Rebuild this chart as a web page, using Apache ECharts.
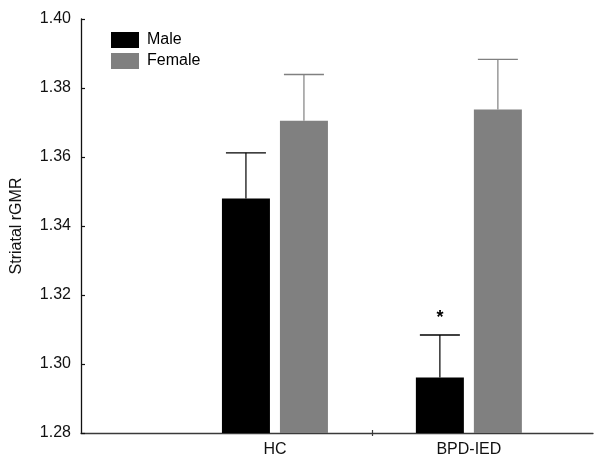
<!DOCTYPE html>
<html>
<head>
<meta charset="utf-8">
<script src="https://cdn.jsdelivr.net/npm/echarts@6/dist/echarts.min.js"></script>
<style>
html,body{margin:0;padding:0;background:#fff;}
#chart{width:601px;height:470px;}
</style>
</head>
<body>
<div id="chart"></div>
<script>
// ---- data ----
const categories = ["HC", "BPD-IED"];
const maleValues = [1.3480, 1.2961];
const maleErrors = [0.0132, 0.0123];
const femaleValues = [1.3705, 1.3738];
const femaleErrors = [0.0134, 0.0145];
const maleSignificance = ["", "*"];
const yTicks = [1.28, 1.30, 1.32, 1.34, 1.36, 1.38, 1.40];
const seriesNames = ["Male", "Female"];

// ---- styling ----
const FONT = "Liberation Sans, Arial, sans-serif";
const BAR_W = 48, BAR_GAP_PX = 10;
const OFFSET = (BAR_W + BAR_GAP_PX) / 2;
const CAP_HALF = 20;
const MALE_COLOR = "#000000", FEMALE_COLOR = "#808080";

const catPos = categories.map((c, i) => i + 1);
const dividers = catPos.slice(0, -1).map(p => p + 0.5);

function barData(vals) { return vals.map((v, i) => [catPos[i], v]); }
function errData(vals, errs, sig) { return vals.map((v, i) => [catPos[i], v, errs[i], sig ? sig[i] : ""]); }

function errRender(offset, color) {
  return function (params, api) {
    const x = api.value(0), v = api.value(1), e = api.value(2);
    const base = api.coord([x, v]);
    const top = api.coord([x, v + e]);
    const cx = base[0] + offset;
    const children = [
      { type: "line", shape: { x1: cx, y1: base[1], x2: cx, y2: top[1] }, style: { stroke: color, lineWidth: 1.2 } },
      { type: "line", shape: { x1: cx - CAP_HALF, y1: top[1], x2: cx + CAP_HALF, y2: top[1] }, style: { stroke: color, lineWidth: 1.4 } }
    ];
    const sig = api.value(3);
    if (sig) {
      children.push({ type: "text", style: { text: sig, x: cx, y: top[1] - 17, align: "center", verticalAlign: "middle", font: "bold 18px " + FONT, fill: "#000" } });
    }
    return { type: "group", children: children };
  };
}

const chart = echarts.init(document.getElementById("chart"), null, { renderer: "canvas" });
chart.setOption({
  animation: false,
  backgroundColor: "#fff",
  grid: { left: 81, right: 8, top: 19, bottom: 37, containLabel: false },
  legend: {
    data: seriesNames,
    orient: "vertical",
    left: 111, top: 32,
    padding: 0,
    itemWidth: 28, itemHeight: 16, itemGap: 5,
    icon: "rect",
    textStyle: { fontFamily: FONT, fontSize: 16, color: "#000", padding: [0, 0, 0, 3] }
  },
  xAxis: [
    {
      type: "value", min: 0, max: 2.64,
      splitLine: { show: false },
      axisLine: { show: true, onZero: false, lineStyle: { color: "#3a3a3a", width: 1.3 } },
      axisTick: { show: true, inside: false, length: 3, customValues: dividers, lineStyle: { color: "#3a3a3a", width: 1.2 } },
      axisLabel: {
        show: true, customValues: catPos, margin: 9,
        fontFamily: FONT, fontSize: 16, color: "#111",
        formatter: v => categories[Math.round(v) - 1] || ""
      }
    },
    {
      type: "value", min: 0, max: 2.64, position: "bottom",
      splitLine: { show: false },
      axisLine: { show: false },
      axisTick: { show: true, inside: true, length: 3, customValues: dividers, lineStyle: { color: "#3a3a3a", width: 1.2 } },
      axisLabel: { show: false }
    }
  ],
  yAxis: {
    type: "value", min: yTicks[0], max: yTicks[yTicks.length - 1], interval: 0.02,
    name: "Striatal rGMR", nameLocation: "middle", nameGap: 56, nameRotate: 90,
    nameTextStyle: { fontFamily: FONT, fontSize: 16, color: "#111" },
    splitLine: { show: false },
    axisLine: { show: true, onZero: false, lineStyle: { color: "#111", width: 1.3 } },
    axisTick: { show: true, inside: true, length: 4, lineStyle: { color: "#111", width: 1.2 } },
    axisLabel: { margin: 10, fontFamily: FONT, fontSize: 16, color: "#111", formatter: v => v.toFixed(2) }
  },
  series: [
    { name: seriesNames[0], type: "bar", xAxisIndex: 0, barWidth: BAR_W, barGap: (BAR_GAP_PX / BAR_W * 100) + "%", itemStyle: { color: MALE_COLOR }, data: barData(maleValues), z: 2 },
    { name: seriesNames[1], type: "bar", xAxisIndex: 0, barWidth: BAR_W, barGap: (BAR_GAP_PX / BAR_W * 100) + "%", itemStyle: { color: FEMALE_COLOR }, data: barData(femaleValues), z: 2 },
    { name: "maleErr", type: "custom", xAxisIndex: 0, renderItem: errRender(-OFFSET, MALE_COLOR), data: errData(maleValues, maleErrors, maleSignificance), z: 3 },
    { name: "femaleErr", type: "custom", xAxisIndex: 0, renderItem: errRender(OFFSET, FEMALE_COLOR), data: errData(femaleValues, femaleErrors, null), z: 3 }
  ]
});
</script>
</body>
</html>
